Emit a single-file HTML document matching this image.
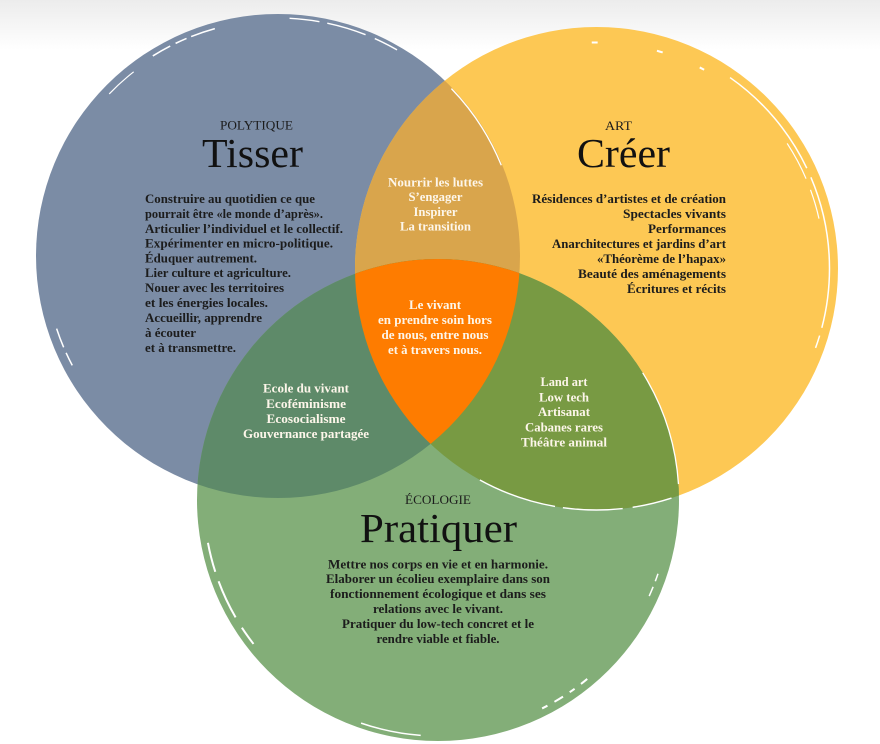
<!DOCTYPE html>
<html><head><meta charset="utf-8">
<style>
html,body{margin:0;padding:0;background:#fff;}
svg{display:block;}
.b{font-family:"Liberation Serif",serif;font-weight:bold;font-size:12.5px;fill:#1c1c1c;}
.w{font-family:"Liberation Serif",serif;font-weight:bold;font-size:12.5px;fill:#fdf6ea;}
.t{font-family:"Liberation Serif",serif;font-size:41px;fill:#111;}
.l{font-family:"Liberation Serif",serif;font-size:13px;fill:#1c1c1c;}
.s{fill:none;stroke:#fff;stroke-linecap:butt;}
</style></head>
<body>
<svg width="880" height="744" viewBox="0 0 880 744" xmlns="http://www.w3.org/2000/svg">
<defs>
<linearGradient id="bg" x1="0" y1="0" x2="0" y2="1">
<stop offset="0" stop-color="#ececec"/><stop offset="1" stop-color="#ffffff"/>
</linearGradient>
<clipPath id="cb"><circle cx="278" cy="256" r="242"/></clipPath>
<clipPath id="cy"><circle cx="596.5" cy="268.5" r="241.5"/></clipPath>
</defs>
<rect width="880" height="744" fill="#fff"/>
<rect width="880" height="50" fill="url(#bg)"/>

<circle cx="278" cy="256" r="242" fill="#7b8ca5"/>
<circle cx="596.5" cy="268.5" r="241.5" fill="#fdc854"/>
<circle cx="438" cy="500" r="241" fill="#83ae78"/>
<circle cx="596.5" cy="268.5" r="241.5" fill="#d9a54c" clip-path="url(#cb)"/>
<circle cx="438" cy="500" r="241" fill="#5e8a69" clip-path="url(#cb)"/>
<circle cx="438" cy="500" r="241" fill="#789a43" clip-path="url(#cy)"/>
<g clip-path="url(#cb)"><circle cx="438" cy="500" r="241" fill="#fe7c00" clip-path="url(#cy)"/></g>

<!-- brush strokes -->
<circle class="s" cx="278" cy="256" r="236" stroke-width="1.6" stroke-dasharray="0 980 20 6 12 5 25 2000"/>
<circle class="s" cx="278" cy="256" r="238" stroke-width="1.4" stroke-dasharray="0 1133 30 8 40 10 25 2000"/>
<circle class="s" cx="278" cy="256" r="234" stroke-width="1.2" stroke-dasharray="0 914 33 2000"/>
<circle class="s" cx="278" cy="256" r="233" stroke-width="1.5" stroke-dasharray="0 618 14 6 20 2000"/>
<circle class="s" cx="278" cy="256" r="241" stroke-width="1.3" stroke-dasharray="0 1329 92 2000"/>
<circle class="s" cx="596.5" cy="268.5" r="233" stroke-width="1.5" stroke-dasharray="60 8 13 1159 120 10 94 100"/>
<circle class="s" cx="596.5" cy="268.5" r="228" stroke-width="1.2" stroke-dasharray="0 1300 40 12 30 2000"/>
<circle class="s" cx="596.5" cy="268.5" r="226" stroke-width="2" stroke-dasharray="0 1060 6 60 6 40 5 2000"/>
<circle class="s" cx="596.5" cy="268.5" r="241.5" stroke-width="1.4" stroke-dasharray="0 303 40 10 60 8 80 2000"/>
<circle class="s" cx="438" cy="500" r="234" stroke-width="2" stroke-dasharray="0 580 20 12 40 10 30 2000"/>
<circle class="s" cx="438" cy="500" r="236" stroke-width="1.5" stroke-dasharray="0 388 61 2000"/>
<circle class="s" cx="438" cy="500" r="233" stroke-width="2" stroke-dasharray="0 204 8 8 6 8 10 8 6 2000"/>
<circle class="s" cx="438" cy="500" r="232" stroke-width="1.5" stroke-dasharray="0 75 8 6 10 2000"/>
<circle class="s" cx="438" cy="500" r="241" stroke-width="1.3" stroke-dasharray="0 1380 118 2000"/>

<!-- Tisser -->
<text class="l" x="220" y="129.5" textLength="73" lengthAdjust="spacingAndGlyphs">POLYTIQUE</text>
<text class="t" x="202" y="167" textLength="101" lengthAdjust="spacingAndGlyphs">Tisser</text>
<text class="b" x="145" y="203" textLength="170" lengthAdjust="spacingAndGlyphs">Construire au quotidien ce que</text>
<text class="b" x="145" y="218" textLength="178" lengthAdjust="spacingAndGlyphs">pourrait être «le monde d’après».</text>
<text class="b" x="145" y="233" textLength="198" lengthAdjust="spacingAndGlyphs">Articulier l’individuel et le collectif.</text>
<text class="b" x="145" y="247.5" textLength="188" lengthAdjust="spacingAndGlyphs">Expérimenter en micro-politique.</text>
<text class="b" x="145" y="262.5" textLength="112" lengthAdjust="spacingAndGlyphs">Éduquer autrement.</text>
<text class="b" x="145" y="277" textLength="146" lengthAdjust="spacingAndGlyphs">Lier culture et agriculture.</text>
<text class="b" x="145" y="292" textLength="139" lengthAdjust="spacingAndGlyphs">Nouer avec les territoires</text>
<text class="b" x="145" y="307" textLength="123" lengthAdjust="spacingAndGlyphs">et les énergies locales.</text>
<text class="b" x="145" y="322" textLength="117" lengthAdjust="spacingAndGlyphs">Accueillir, apprendre</text>
<text class="b" x="145" y="337" textLength="51" lengthAdjust="spacingAndGlyphs">à écouter</text>
<text class="b" x="145" y="352" textLength="91" lengthAdjust="spacingAndGlyphs">et à transmettre.</text>

<!-- Créer -->
<text class="l" x="605" y="130" textLength="27" lengthAdjust="spacingAndGlyphs">ART</text>
<text class="t" x="577" y="167" textLength="93" lengthAdjust="spacingAndGlyphs">Créer</text>
<g text-anchor="end">
<text class="b" x="726" y="203" textLength="194" lengthAdjust="spacingAndGlyphs">Résidences d’artistes et de création</text>
<text class="b" x="726" y="218" textLength="103" lengthAdjust="spacingAndGlyphs">Spectacles vivants</text>
<text class="b" x="726" y="233" textLength="78" lengthAdjust="spacingAndGlyphs">Performances</text>
<text class="b" x="726" y="248" textLength="174" lengthAdjust="spacingAndGlyphs">Anarchitectures et jardins d’art</text>
<text class="b" x="726" y="263" textLength="129" lengthAdjust="spacingAndGlyphs">«Théorème de l’hapax»</text>
<text class="b" x="726" y="278" textLength="148" lengthAdjust="spacingAndGlyphs">Beauté des aménagements</text>
<text class="b" x="726" y="293" textLength="99" lengthAdjust="spacingAndGlyphs">Écritures et récits</text>
</g>

<!-- Pratiquer -->
<text class="l" x="405" y="504" textLength="66" lengthAdjust="spacingAndGlyphs">ÉCOLOGIE</text>
<text class="t" x="360" y="542" textLength="157" lengthAdjust="spacingAndGlyphs">Pratiquer</text>
<g text-anchor="middle">
<text class="b" x="438" y="568.7" textLength="220" lengthAdjust="spacingAndGlyphs">Mettre nos corps en vie et en harmonie.</text>
<text class="b" x="438" y="583" textLength="224" lengthAdjust="spacingAndGlyphs">Elaborer un écolieu exemplaire dans son</text>
<text class="b" x="438" y="598" textLength="216" lengthAdjust="spacingAndGlyphs">fonctionnement écologique et dans ses</text>
<text class="b" x="438" y="613" textLength="130" lengthAdjust="spacingAndGlyphs">relations avec le vivant.</text>
<text class="b" x="438" y="628" textLength="192" lengthAdjust="spacingAndGlyphs">Pratiquer du low-tech concret et le</text>
<text class="b" x="438" y="643" textLength="123" lengthAdjust="spacingAndGlyphs">rendre viable et fiable.</text>

<!-- lens B∩Y -->
<text class="w" x="435.5" y="186.3" textLength="95" lengthAdjust="spacingAndGlyphs">Nourrir les luttes</text>
<text class="w" x="435.5" y="201" textLength="54" lengthAdjust="spacingAndGlyphs">S’engager</text>
<text class="w" x="435.5" y="216" textLength="44" lengthAdjust="spacingAndGlyphs">Inspirer</text>
<text class="w" x="435.5" y="230.7" textLength="71" lengthAdjust="spacingAndGlyphs">La transition</text>

<!-- center -->
<text class="w" x="435" y="309" textLength="52" lengthAdjust="spacingAndGlyphs">Le vivant</text>
<text class="w" x="435" y="324" textLength="114" lengthAdjust="spacingAndGlyphs">en prendre soin hors</text>
<text class="w" x="435" y="339" textLength="107" lengthAdjust="spacingAndGlyphs">de nous, entre nous</text>
<text class="w" x="435" y="354" textLength="94" lengthAdjust="spacingAndGlyphs">et à travers nous.</text>

<!-- lens B∩G -->
<text class="w" x="306" y="392.7" textLength="86" lengthAdjust="spacingAndGlyphs">Ecole du vivant</text>
<text class="w" x="306" y="408" textLength="80" lengthAdjust="spacingAndGlyphs">Ecoféminisme</text>
<text class="w" x="306" y="423" textLength="79" lengthAdjust="spacingAndGlyphs">Ecosocialisme</text>
<text class="w" x="306" y="438" textLength="126" lengthAdjust="spacingAndGlyphs">Gouvernance partagée</text>

<!-- lens Y∩G -->
<text class="w" x="564" y="386" textLength="47" lengthAdjust="spacingAndGlyphs">Land art</text>
<text class="w" x="564" y="401.7" textLength="50" lengthAdjust="spacingAndGlyphs">Low tech</text>
<text class="w" x="564" y="416" textLength="52" lengthAdjust="spacingAndGlyphs">Artisanat</text>
<text class="w" x="564" y="431.7" textLength="78" lengthAdjust="spacingAndGlyphs">Cabanes rares</text>
<text class="w" x="564" y="446.7" textLength="86" lengthAdjust="spacingAndGlyphs">Théâtre animal</text>
</g>
</svg>
</body></html>
